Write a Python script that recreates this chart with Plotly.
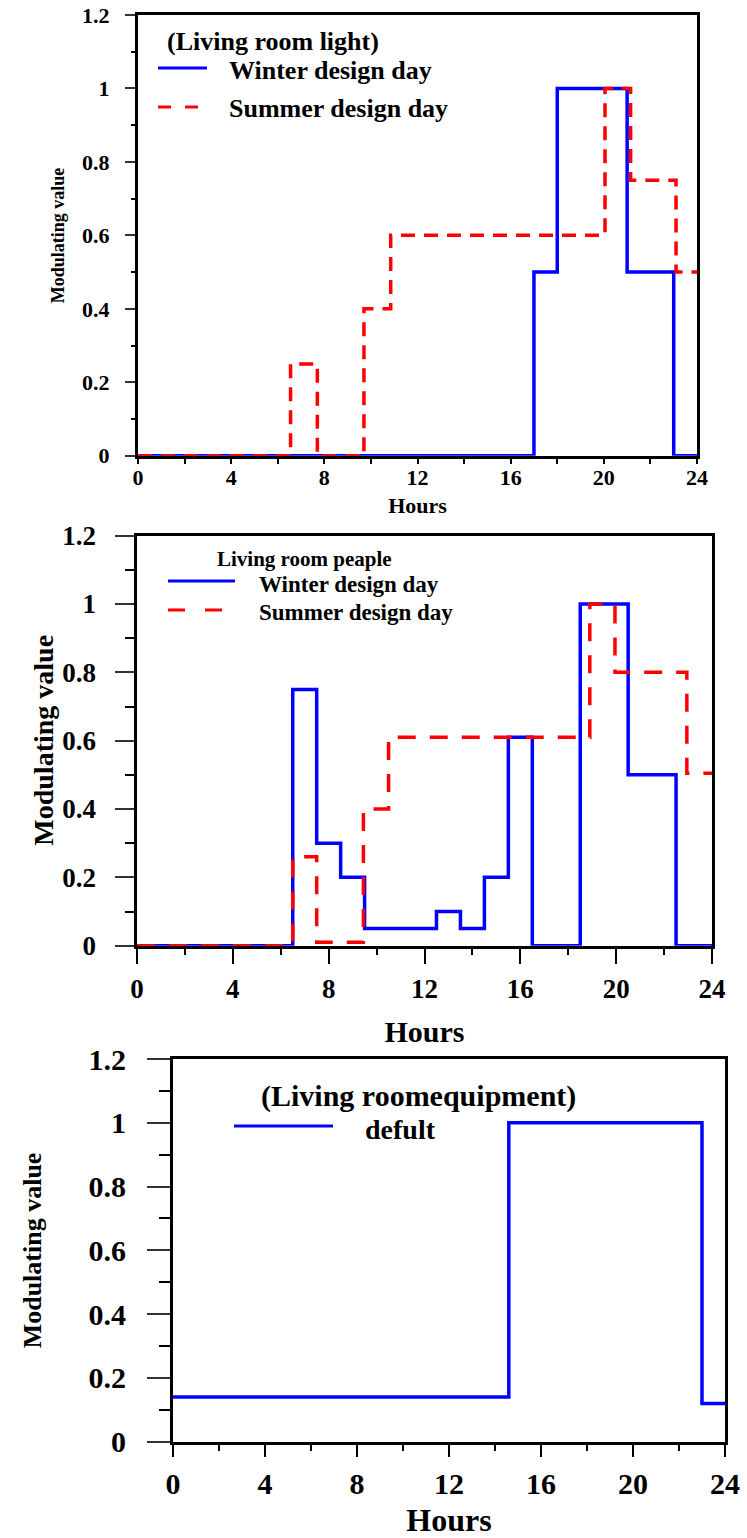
import plotly.graph_objects as go

# ---------------- data ----------------
# Panel 1: Living room light (step schedules, value holds from each hour to the next)
light_winter_hours = [0, 17, 18, 21, 23, 24]
light_winter_values = [0, 0.5, 1.0, 0.5, 0, 0]
light_summer_hours = [0, 6.55, 7.7, 9.7, 10.85, 20.05, 21.15, 23.1, 24]
light_summer_values = [0, 0.25, 0, 0.4, 0.6, 1.0, 0.75, 0.5, 0.5]

# Panel 2: Living room people
people_winter_hours = [0, 6.5, 7.5, 8.5, 9.5, 12.5, 13.5, 14.5, 15.5, 16.5, 18.5, 20.5, 22.5, 24]
people_winter_values = [0, 0.75, 0.3, 0.2, 0.05, 0.1, 0.05, 0.2, 0.61, 0, 1.0, 0.5, 0, 0]
people_summer_hours = [0, 6.5, 7.5, 9.45, 10.5, 18.9, 19.95, 22.95, 24]
people_summer_values = [0, 0.26, 0.01, 0.4, 0.61, 1.0, 0.8, 0.505, 0.505]

# Panel 3: Living room equipment
equip_hours = [0, 14.6, 23, 24]
equip_values = [0.14, 1.0, 0.12, 0.12]

x_tickvals = [0, 4, 8, 12, 16, 20, 24]
x_ticktext = ["0", "4", "8", "12", "16", "20", "24"]
y_tickvals = [0, 0.2, 0.4, 0.6, 0.8, 1.0, 1.2]
y_ticktext = ["0", "0.2", "0.4", "0.6", "0.8", "1", "1.2"]

titles = ["(Living room light)", "Living room peaple", "(Living roomequipment)"]
series_names = ["Winter design day", "Summer design day", "defult"]
x_title = "Hours"
y_title = "Modulating value"

# ---------------- layout helpers ----------------
W, H = 747, 1538
FONT = "Liberation Serif"
BLUE = "#0000FF"
RED = "#FF0000"
NBSP = "\u00a0"


def px(x):
    return x / W


def py(y):
    return 1 - y / H


fig = go.Figure()

fig.add_trace(go.Scatter(x=light_winter_hours, y=light_winter_values, mode="lines",
                         line=dict(shape="hv", color=BLUE, width=3.5),
                         name=series_names[0], xaxis="x", yaxis="y", showlegend=False))
fig.add_trace(go.Scatter(x=light_summer_hours, y=light_summer_values, mode="lines",
                         line=dict(shape="hv", color=RED, width=3.5, dash="14px,9px"),
                         name=series_names[1], xaxis="x", yaxis="y", showlegend=False))
fig.add_trace(go.Scatter(x=people_winter_hours, y=people_winter_values, mode="lines",
                         line=dict(shape="hv", color=BLUE, width=3.5),
                         name=series_names[0], xaxis="x2", yaxis="y2", showlegend=False))
fig.add_trace(go.Scatter(x=people_summer_hours, y=people_summer_values, mode="lines",
                         line=dict(shape="hv", color=RED, width=3.5, dash="18px,14px"),
                         name=series_names[1], xaxis="x2", yaxis="y2", showlegend=False))
fig.add_trace(go.Scatter(x=equip_hours, y=equip_values, mode="lines",
                         line=dict(shape="hv", color=BLUE, width=3.5),
                         name=series_names[2], xaxis="x3", yaxis="y3", showlegend=False))

panels = [
    dict(x0=138, x1=697, top=15, bottom=455.7, tick_font=22, xtitle_font=22,
         ylen=10, yminor=4, xlen=0, xminor=5, ypad=2, xstand=0, xtitle_stand=9,
         ytitle_x=58, ytitle_font=18),
    dict(x0=137, x1=712, top=535.7, bottom=945.7, tick_font=27, xtitle_font=30,
         ylen=19, yminor=9, xlen=15, xminor=6, ypad=2, xstand=2, xtitle_stand=18,
         ytitle_x=44, ytitle_font=28),
    dict(x0=173, x1=725, top=1059, bottom=1441.7, tick_font=30, xtitle_font=32,
         ylen=23, yminor=11, xlen=12, xminor=6, ypad=2, xstand=1, xtitle_stand=21,
         ytitle_x=32, ytitle_font=26),
]

layout = dict(width=W, height=H, autosize=False, margin=dict(l=0, r=0, t=0, b=0),
              paper_bgcolor="white", plot_bgcolor="white", showlegend=False,
              font=dict(family=FONT, color="black"))

annotations = []
for i, p in enumerate(panels):
    suffix = "" if i == 0 else str(i + 1)
    xa = dict(domain=[px(p["x0"]), px(p["x1"])], range=[0, 24], anchor="y" + suffix,
              tickvals=x_tickvals, ticktext=x_ticktext,
              ticks="outside" if p["xlen"] > 0 else "", ticklen=p["xlen"], tickwidth=2, tickcolor="black",
              minor=dict(dtick=2, ticks="outside", ticklen=p["xminor"], tickwidth=2, tickcolor="black"),
              showline=True, linecolor="black", linewidth=3, mirror=True,
              showgrid=False, zeroline=False, layer="below traces",
              tickfont=dict(family=FONT, size=p["tick_font"], color="black", weight="bold"),
              ticklabelstandoff=p["xstand"],
              title=dict(text="<b>%s</b>" % x_title, standoff=p["xtitle_stand"],
                         font=dict(family=FONT, size=p["xtitle_font"], color="black")),
              automargin=False, fixedrange=True)
    # pad y labels away from the ticks with non-breaking spaces
    padded_y_text = [t + NBSP * p["ypad"] for t in y_ticktext]
    ya = dict(domain=[py(p["bottom"]), py(p["top"])], range=[0, 1.2], anchor="x" + suffix,
              tickvals=y_tickvals, ticktext=padded_y_text,
              ticks="outside", ticklen=p["ylen"], tickwidth=2, tickcolor="#333",
              minor=dict(dtick=0.1, ticks="outside", ticklen=p["yminor"], tickwidth=2, tickcolor="black"),
              showline=True, linecolor="black", linewidth=3, mirror=True,
              showgrid=False, zeroline=False, layer="below traces",
              tickfont=dict(family=FONT, size=p["tick_font"], color="black", weight="bold"),
              automargin=False, fixedrange=True)
    layout["xaxis" + suffix] = xa
    layout["yaxis" + suffix] = ya
    # y-axis title, placed beside the tick labels
    annotations.append(dict(text="<b>%s</b>" % y_title, xref="paper", yref="paper",
                            x=px(p["ytitle_x"]), y=py((p["top"] + p["bottom"]) / 2),
                            xanchor="center", yanchor="middle", textangle=-90, showarrow=False,
                            font=dict(family=FONT, size=p["ytitle_font"], color="black")))

fig.update_layout(**layout)

# ---------------- legends (drawn inside each plot box) ----------------
shapes = [
    dict(type="line", xref="paper", yref="paper", x0=px(158), x1=px(207), y0=py(68), y1=py(68),
         line=dict(color=BLUE, width=3)),
    dict(type="line", xref="paper", yref="paper", x0=px(158), x1=px(198), y0=py(107), y1=py(107),
         line=dict(color=RED, width=3, dash="13px,14px")),
    dict(type="line", xref="paper", yref="paper", x0=px(168), x1=px(235), y0=py(581), y1=py(581),
         line=dict(color=BLUE, width=3)),
    dict(type="line", xref="paper", yref="paper", x0=px(168), x1=px(222), y0=py(610), y1=py(610),
         line=dict(color=RED, width=3, dash="17px,20px")),
    dict(type="line", xref="paper", yref="paper", x0=px(234), x1=px(333), y0=py(1126), y1=py(1126),
         line=dict(color=BLUE, width=3)),
]


def label(text, x, y, size, anchor="left"):
    return dict(text="<b>%s</b>" % text, xref="paper", yref="paper", x=px(x), y=py(y),
                xanchor=anchor, yanchor="middle", showarrow=False,
                font=dict(family=FONT, size=size, color="black"))


annotations += [
    label(titles[0], 165, 42, 26),
    label(series_names[0], 227, 70, 26),
    label(series_names[1], 227, 108, 26),
    label(titles[1], 215, 559, 21),
    label(series_names[0], 257, 584, 23),
    label(series_names[1], 257, 612, 23),
    label(titles[2], 418, 1096, 30, anchor="center"),
    label(series_names[2], 363, 1129, 28),
]

fig.update_layout(shapes=shapes, annotations=annotations)

fig.write_html("out.html")
